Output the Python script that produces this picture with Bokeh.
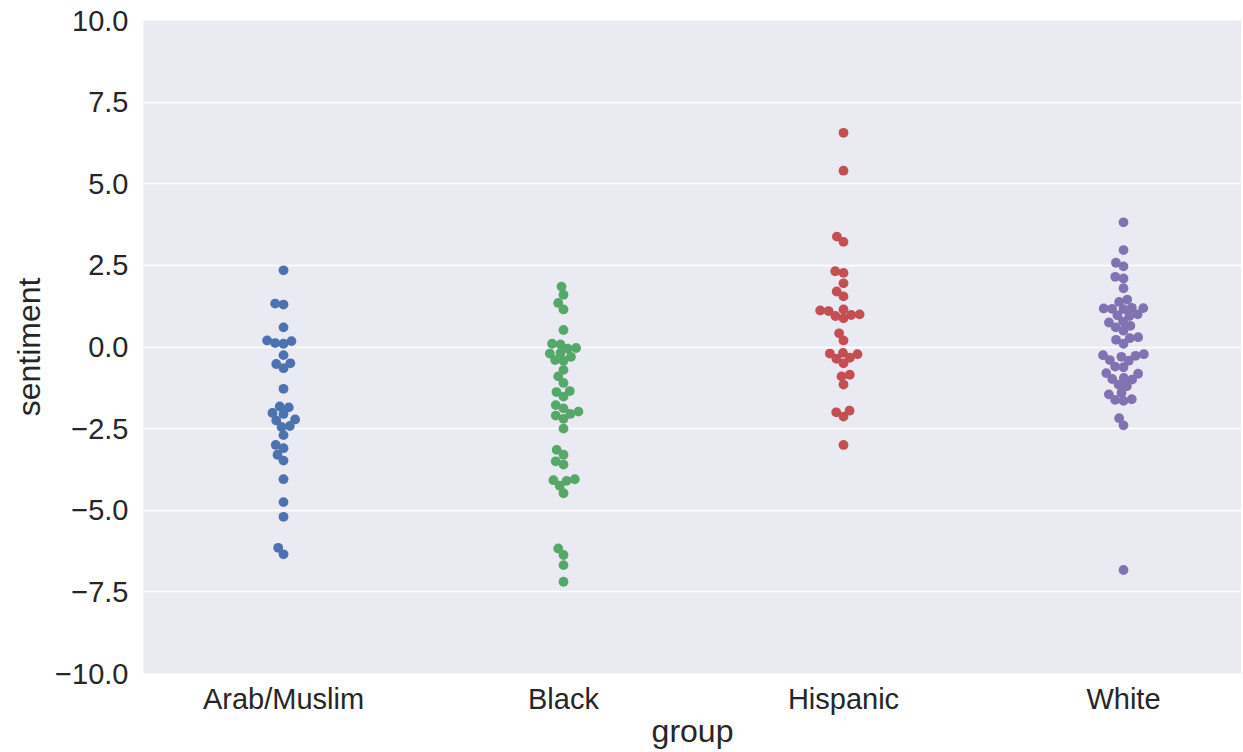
import numpy as np
from bokeh.plotting import figure
from bokeh.models import Range1d, FixedTicker, CustomJSTickFormatter, ColumnDataSource
from bokeh.embed import file_html
from bokeh.resources import INLINE

groups = ["Arab/Muslim", "Black", "Hispanic", "White"]
colors = ["#4C72B0", "#55A868", "#C44E52", "#8172B2"]

arab = [2.35, 1.33, 1.30, 0.60, 0.20, 0.18, 0.12, 0.10, -0.25, -0.50, -0.52, -0.65,
        -1.28, -1.82, -1.85, -2.02, -2.05, -2.22, -2.25, -2.42, -2.45, -2.70, -3.0,
        -3.1, -3.3, -3.48, -4.05, -4.75, -5.2, -6.15, -6.35]
black = [1.85, 1.6, 1.35, 1.15, 0.52, 0.1, 0.08, -0.03, -0.05, -0.18, -0.2, -0.3,
         -0.4, -0.42, -0.7, -0.9, -1.1, -1.35, -1.38, -1.52, -1.78, -1.88, -1.98,
         -2.05, -2.1, -2.2, -2.5, -3.15, -3.3, -3.5, -3.6, -4.05, -4.08, -4.1,
         -4.25, -4.48, -6.17, -6.37, -6.68, -7.19]
hispanic = [6.56, 5.4, 3.38, 3.22, 2.32, 2.27, 1.95, 1.7, 1.55, 1.15, 1.12, 1.1,
            1.0, 0.98, 0.95, 0.88, 0.42, 0.2, -0.18, -0.2, -0.22, -0.33, -0.36,
            -0.5, -0.85, -0.9, -1.15, -1.95, -2.0, -2.13, -3.0]
white = [3.82, 2.97, 2.58, 2.47, 2.15, 2.1, 1.8, 1.45, 1.38, 1.2, 1.19, 1.18, 1.17,
         1.16, 1.0, 0.97, 0.95, 0.78, 0.75, 0.65, 0.6, 0.5, 0.3, 0.27, 0.22, 0.1,
         -0.22, -0.25, -0.27, -0.3, -0.4, -0.42, -0.6, -0.62, -0.8, -0.82, -0.95,
         -0.98, -1.0, -1.15, -1.2, -1.4, -1.45, -1.6, -1.62, -1.65, -2.18, -2.4, -6.83]
series = [arab, black, hispanic, white]

yticks = [-10, -7.5, -5, -2.5, 0, 2.5, 5, 7.5, 10]

W, H = 1241, 752
BL, BR, BT, BB = 143, 0, 20, 79
fw = W - BL - BR
fh = H - BT - BB
x0 = -0.5
x1 = x0 + fw / 280.0
sx = fw / (x1 - x0)
sy = fh / 20.0
D = 8.4


def swarm(vals, d):
    vals = np.asarray(vals, float)
    order = np.argsort(vals, kind="stable")
    placed = []
    offs = np.zeros(len(vals))
    for i in order:
        y = vals[i] * sy
        near = [(px, py) for px, py in placed if abs(py - y) < d]
        cands = [0.0]
        for px, py in near:
            dx = np.sqrt(d * d - (py - y) ** 2)
            cands += [px + dx, px - dx]
        cands.sort(key=lambda c: (round(abs(c), 6), c))
        chosen = cands[-1]
        for c in cands:
            if all((c - px) ** 2 + (y - py) ** 2 >= d * d - 1e-6 for px, py in near):
                chosen = c
                break
        placed.append((chosen, y))
        offs[i] = chosen / sx
    return offs


p = figure(width=W, height=H, output_backend="svg", toolbar_location=None,
           x_range=Range1d(x0, x1), y_range=Range1d(-10, 10),
           min_border_left=BL, min_border_right=BR, min_border_top=BT,
           min_border_bottom=BB)
p.background_fill_color = "#EAEAF2"
p.border_fill_color = "white"
p.outline_line_color = None

for k, (vals, col) in enumerate(zip(series, colors)):
    offs = swarm(vals, D)
    src = ColumnDataSource(dict(x=k + offs, y=vals))
    p.scatter("x", "y", source=src, size=9.8, marker="circle",
              fill_color=col, line_color=None)

p.xgrid.visible = False
p.ygrid.ticker = FixedTicker(ticks=yticks)
p.ygrid.grid_line_color = "white"
p.ygrid.grid_line_width = 1.6

p.xaxis.ticker = FixedTicker(ticks=list(range(len(groups))))
p.xaxis.major_label_overrides = {i: g for i, g in enumerate(groups)}
p.yaxis.ticker = FixedTicker(ticks=yticks)
p.yaxis.formatter = CustomJSTickFormatter(
    code="return (tick < 0 ? '\u2212' : '') + Math.abs(tick).toFixed(1);")

for ax in (p.xaxis[0], p.yaxis[0]):
    ax.axis_line_color = None
    ax.major_tick_line_color = None
    ax.minor_tick_line_color = None
    ax.major_tick_out = 0
    ax.major_tick_in = 0
    ax.major_label_text_font = "Liberation Sans"
    ax.major_label_text_font_size = "29px"
    ax.major_label_text_color = "#262626"
    ax.axis_label_text_font = "Liberation Sans"
    ax.axis_label_text_font_size = "32px"
    ax.axis_label_text_font_style = "normal"
    ax.axis_label_text_color = "#262626"

p.xaxis.axis_label = "group"
p.yaxis.axis_label = "sentiment"
p.xaxis.major_label_standoff = 9
p.xaxis.axis_label_standoff = -5
p.yaxis.major_label_standoff = 15
p.yaxis.axis_label_standoff = 5

open("out.html", "w").write(file_html(p, INLINE))
